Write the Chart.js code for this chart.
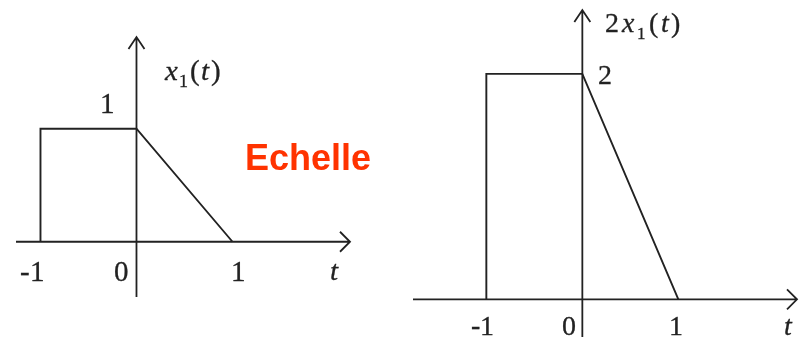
<!DOCTYPE html>
<html>
<head>
<meta charset="utf-8">
<script src="https://cdn.jsdelivr.net/npm/chart.js@4.4.1/dist/chart.umd.min.js"></script>
<style>
  @font-face { font-family: "LabelSerif"; font-style: normal; src: local("Liberation Serif"), local("LiberationSerif"), local("Liberation Serif Regular"); }
  @font-face { font-family: "LabelSerif"; font-style: italic; src: local("Liberation Serif Italic"), local("LiberationSerif-Italic"); }
  html, body { margin: 0; padding: 0; background: #fff; }
  #wrap { position: relative; width: 803px; height: 341px; overflow: hidden; }
  #wrap canvas, .layer { position: absolute; left: 0; top: 0; }
  .layer { width: 803px; height: 341px; pointer-events: none; }
  .mlabel {
    position: absolute; font-family: "LabelSerif", "Liberation Serif", "DejaVu Serif", serif; line-height: 1;
    white-space: nowrap; color: #222; -webkit-text-stroke: 0.3px #222;
  }
  .mlabel .sub { font-size: 62%; position: relative; }
  #echelle {
    position: absolute; left: 245px; top: 140px;
    font: bold 36px "Liberation Sans", Arial, sans-serif; line-height: 36px;
    color: #ff3300; white-space: nowrap;
  }
</style>
</head>
<body>
<div id="wrap">
  <canvas id="leftChart" width="803" height="341"></canvas>
  <canvas id="rightChart" width="803" height="341"></canvas>
  <div class="layer" id="leftLabels"></div>
  <div class="layer" id="rightLabels"></div>
  <div id="echelle">Echelle</div>
</div>
<script>
// x1(t): rectangle from -1 to 0, then ramp down to 0 at t = 1
const x1Time = [-1, -1, 0, 1];
const x1Value = [0, 1, 1, 0];
// 2*x1(t): same shape, amplitude scaled by 2
const x2Time = [-1, -1, 0, 1];
const x2Value = [0, 2, 2, 0];
// ticks written under the t axis
const tickValues = [-1, 0, 1];
const tickLabels = ['-1', '0', '1'];

const INK = '#222';

// puts a small "math" label (plain / italic / subscript pieces) with its baseline at y
function placeLabel(layer, parts, x, y, size, align, gap) {
  const el = document.createElement('div');
  el.className = 'mlabel';
  el.style.fontSize = size + 'px';
  el.style.letterSpacing = (parts.length > 1 ? gap : 0) + 'px';
  el.style.left = x + 'px';
  el.style.top = (y - 0.8375 * size) + 'px'; // Liberation Serif baseline with line-height 1
  if (align === 'center') el.style.transform = 'translateX(-50%)';
  el.innerHTML = parts.map(p => {
    if (p[1] === 'i') return '<i>' + p[0] + '</i>';
    if (p[1] === 'sub') return '<span class="sub" style="top:' + (0.26 * size) + 'px">' + p[0] + '</span>';
    return p[0];
  }).join('');
  layer.appendChild(el);
}

// axes through the origin with open arrow heads, plus the labels
const sketchAxes = {
  id: 'sketchAxes',
  afterDatasetsDraw(chart, args, opts) {
    const { ctx, chartArea: a } = chart;
    const sx = chart.scales.x, sy = chart.scales.y;
    const x0 = sx.getPixelForValue(0), y0 = sy.getPixelForValue(0);
    ctx.save();
    ctx.strokeStyle = INK;
    ctx.lineWidth = 1.8;
    ctx.beginPath();
    ctx.moveTo(a.left, y0); ctx.lineTo(a.right, y0);
    ctx.moveTo(x0, a.bottom); ctx.lineTo(x0, a.top);
    ctx.moveTo(a.right - 10, y0 - 10); ctx.lineTo(a.right, y0); ctx.lineTo(a.right - 10, y0 + 10);
    ctx.moveTo(x0 - 8, a.top + 12); ctx.lineTo(x0, a.top); ctx.lineTo(x0 + 8, a.top + 12);
    ctx.stroke();
    ctx.restore();

    const layer = document.getElementById(opts.layer);
    layer.innerHTML = '';
    tickValues.forEach((v, i) => {
      placeLabel(layer, [[tickLabels[i]]], sx.getPixelForValue(v) + opts.tickDx[i], y0 + opts.tickDy, opts.size, 'center', 0);
    });
    opts.labels.forEach(l => {
      const px = l.at === 'end' ? a.right + l.dx : sx.getPixelForValue(l.x) + l.dx;
      const py = sy.getPixelForValue(l.y) + l.dy;
      placeLabel(layer, l.parts, px, py, opts.size, l.align || 'left', opts.gap);
    });
  }
};

function makeChart(id, times, values, cfg) {
  const canvas = document.getElementById(id);
  return new Chart(canvas.getContext('2d'), {
    type: 'line',
    data: {
      datasets: [{
        data: times.map((t, i) => ({ x: t, y: values[i] })),
        borderColor: INK,
        borderWidth: 1.9,
        pointRadius: 0,
        tension: 0,
        fill: false
      }]
    },
    options: {
      responsive: false,
      animation: false,
      events: [],
      layout: { padding: cfg.padding },
      scales: {
        x: { type: 'linear', display: false, min: cfg.xMin, max: cfg.xMax },
        y: { type: 'linear', display: false, min: cfg.yMin, max: cfg.yMax }
      },
      plugins: {
        legend: { display: false },
        tooltip: { enabled: false },
        sketchAxes: cfg.axes
      }
    },
    plugins: [sketchAxes]
  });
}

makeChart('leftChart', x1Time, x1Value, {
  padding: { left: 16, right: 453, top: 37, bottom: 44 },
  xMin: -1.255, xMax: 2.224, yMin: -0.489, yMax: 1.812,
  axes: {
    layer: 'leftLabels',
    size: 29,
    gap: 1.5,
    tickDx: [-8, -14.5, 6.5],
    tickDy: 40,
    labels: [
      { parts: [['t', 'i']], at: 'end', dx: -16, y: 0, dy: 39, align: 'center' },
      { parts: [['1']], x: 0, dx: -29, y: 1, dy: -15, align: 'center' },
      { parts: [['x', 'i'], ['1', 'sub'], ['('], ['t', 'i'], [')']], x: 0, dx: 28.5, y: 1.812, dy: 43 }
    ]
  }
});

makeChart('rightChart', x2Time, x2Value, {
  padding: { left: 413, right: 6, top: 10, bottom: 4 },
  xMin: -1.764, xMax: 2.236, yMin: -0.334, yMax: 2.567,
  axes: {
    layer: 'rightLabels',
    size: 28,
    gap: 2.8,
    tickDx: [-4, -13, -2],
    tickDy: 36,
    labels: [
      { parts: [['t', 'i']], at: 'end', dx: -9.5, y: 0, dy: 36, align: 'center' },
      { parts: [['2']], x: 0, dx: 16, y: 2, dy: 11 },
      { parts: [['2'], ['x', 'i'], ['1', 'sub'], ['('], ['t', 'i'], [')']], x: 0, dx: 23, y: 2.567, dy: 22 }
    ]
  }
});
</script>
</body>
</html>
